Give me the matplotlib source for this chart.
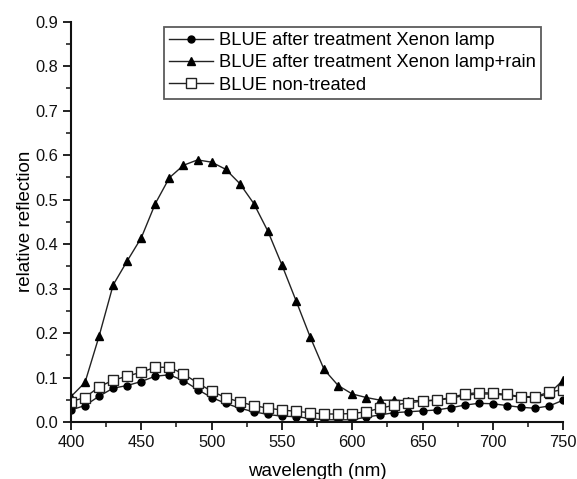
import matplotlib.pyplot as plt
import numpy as np

plt.rcParams['font.family'] = ['Liberation Sans', 'DejaVu Sans']

# wavelength in nm, one point every 10 nm
wavelength = list(range(400, 751, 10))

xenon = [0.027, 0.037, 0.058, 0.076, 0.082, 0.091, 0.103, 0.106, 0.093, 0.073,
         0.055, 0.042, 0.031, 0.023, 0.017, 0.013, 0.012, 0.008, 0.005, 0.005,
         0.005, 0.011, 0.016, 0.021, 0.023, 0.025, 0.027, 0.032, 0.038, 0.042,
         0.041, 0.037, 0.033, 0.031, 0.036, 0.049]

xenon_rain = [0.057, 0.089, 0.193, 0.308, 0.362, 0.414, 0.491, 0.549, 0.577, 0.589,
              0.584, 0.568, 0.536, 0.491, 0.429, 0.353, 0.273, 0.192, 0.118, 0.082,
              0.063, 0.055, 0.049, 0.049, 0.048, 0.048, 0.049, 0.053, 0.060, 0.063,
              0.063, 0.060, 0.056, 0.055, 0.064, 0.094]

non_treated = [0.046, 0.055, 0.079, 0.094, 0.103, 0.112, 0.123, 0.123, 0.108, 0.088,
               0.069, 0.055, 0.045, 0.037, 0.031, 0.027, 0.024, 0.021, 0.018, 0.018,
               0.019, 0.023, 0.031, 0.038, 0.043, 0.047, 0.049, 0.055, 0.063, 0.066,
               0.065, 0.062, 0.057, 0.057, 0.067, 0.073]

labels = ["BLUE after treatment Xenon lamp",
          "BLUE after treatment Xenon lamp+rain",
          "BLUE non-treated"]

fig = plt.figure(figsize=(5.77, 4.79), dpi=100)
ax = fig.add_axes([0.123, 0.119, 0.853, 0.836])

line_kw = dict(color='#222222', linewidth=1.0, clip_on=True)
ax.plot(wavelength, xenon, marker='o', markersize=5, markerfacecolor='black',
        markeredgecolor='black', label=labels[0], **line_kw)
ax.plot(wavelength, xenon_rain, marker='^', markersize=5.5, markerfacecolor='black',
        markeredgecolor='black', label=labels[1], **line_kw)
ax.plot(wavelength, non_treated, marker='s', markersize=7.5, markerfacecolor='white',
        markeredgecolor='#222222', markeredgewidth=1.0, label=labels[2], **line_kw)

ax.set_xlim(400, 750)
ax.set_ylim(0, 0.9)
ax.set_xticks(np.arange(400, 751, 50))
ax.set_xticks(np.arange(425, 751, 50), minor=True)
ax.set_yticks(np.arange(0, 0.91, 0.1))
ax.set_yticks(np.arange(0.05, 0.9, 0.1), minor=True)
ax.yaxis.set_major_formatter(plt.FormatStrFormatter('%.1f'))

for side in ['top', 'right']:
    ax.spines[side].set_visible(False)
for side in ['left', 'bottom']:
    ax.spines[side].set_linewidth(1.5)
    ax.spines[side].set_color('#111111')

ax.tick_params(which='major', direction='out', length=6, width=1.3, labelsize=11.8,
               colors='#111111')
ax.tick_params(which='minor', direction='out', length=3.5, width=1.1, colors='#111111')

ax.set_xlabel("wavelength (nm)", fontsize=13.5, labelpad=9)
ax.set_ylabel("relative reflection", fontsize=13.5, labelpad=1)

leg = ax.legend(loc='upper left', bbox_to_anchor=(0.189, 0.987), fontsize=13.2,
                frameon=True, fancybox=False, handlelength=2.4, handletextpad=0.3,
                borderpad=0.3, labelspacing=0.28, borderaxespad=0)
leg.get_frame().set_edgecolor('#333333')
leg.get_frame().set_linewidth(1.3)

fig.savefig("out.png", dpi=100)
